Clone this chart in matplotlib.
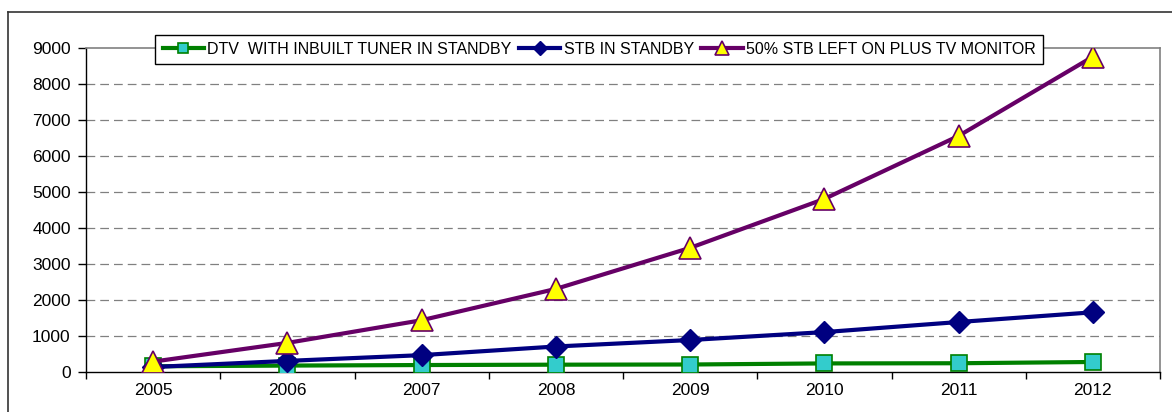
import matplotlib
matplotlib.use("Agg")
import matplotlib.pyplot as plt
from matplotlib.lines import Line2D
import numpy as np

years = ["2005", "2006", "2007", "2008", "2009", "2010", "2011", "2012"]
dtv_standby = [150, 170, 185, 195, 200, 230, 235, 270]
stb_standby = [130, 300, 460, 700, 880, 1100, 1380, 1650]
stb_left_on = [280, 800, 1430, 2300, 3440, 4800, 6550, 8750]

labels = ["DTV  WITH INBUILT TUNER IN STANDBY", "STB IN STANDBY",
          "50% STB LEFT ON PLUS TV MONITOR"]

plt.rcParams['font.family'] = ['Liberation Sans', 'DejaVu Sans']

W, H = 1172, 412
fig = plt.figure(figsize=(W / 100, H / 100), dpi=100)
ax = fig.add_axes([86 / W, 1 - 371.7 / H, (1160 - 86) / W, (371.7 - 47.7) / H])

x = np.arange(len(years)) + 0.5

ax.plot(x, dtv_standby, color="#008000", lw=3, marker="s", ms=12,
        mfc="#33CCCC", mec="#008000", mew=1.2, label=labels[0], zorder=3)
ax.plot(x, stb_standby, color="#000080", lw=3, marker="D", ms=11,
        mfc="#000080", mec="#000080", label=labels[1], zorder=4)
ax.plot(x, stb_left_on, color="#660066", lw=3, marker="^", ms=16,
        mfc="#FFFF00", mec="#660066", mew=1.2, label=labels[2], zorder=5)

ax.set_xlim(0, len(years))
ax.set_ylim(0, 9000)
ax.set_yticks(np.arange(0, 9001, 1000))
ax.set_xticks(np.arange(0, len(years) + 1))
ax.set_xticklabels([])
ax.set_xticks(x, minor=True)
ax.set_xticklabels(years, minor=True)
ax.tick_params(axis="x", which="minor", length=0, labelsize=12.5, pad=8)
ax.tick_params(axis="x", which="major", length=5, width=1, direction="out")
ax.tick_params(axis="y", length=6, width=1, direction="out", labelsize=12.5, pad=5)

for v in range(1000, 9000, 1000):
    ax.axhline(v, color="#808080", lw=0.9, ls=(0, (7, 4)), zorder=1)

for s in ["top", "right"]:
    ax.spines[s].set_color("#808080")
    ax.spines[s].set_linewidth(1.2)
for s in ["left", "bottom"]:
    ax.spines[s].set_color("black")
    ax.spines[s].set_linewidth(1)

leg = ax.legend(loc="center", bbox_to_anchor=((599 - 86) / (1160 - 86), 1 + (47.7 - 49.5) / 324),
                ncol=3, fontsize=11.5, frameon=True, fancybox=False, framealpha=1,
                edgecolor="black", handlelength=2.6, handletextpad=0.2,
                columnspacing=0.45, borderpad=0.45, markerscale=0.65, borderaxespad=0)
leg.get_frame().set_linewidth(1)
leg.set_zorder(10)

# outer chart frame (partially visible)
fig.add_artist(Line2D([8 / W, 8 / W], [0, 1 - 12 / H], transform=fig.transFigure,
                      color="#333333", lw=1.2))
fig.add_artist(Line2D([8 / W, 1], [1 - 12 / H, 1 - 12 / H], transform=fig.transFigure,
                      color="#333333", lw=1.2))

fig.savefig("out.png", dpi=100)
